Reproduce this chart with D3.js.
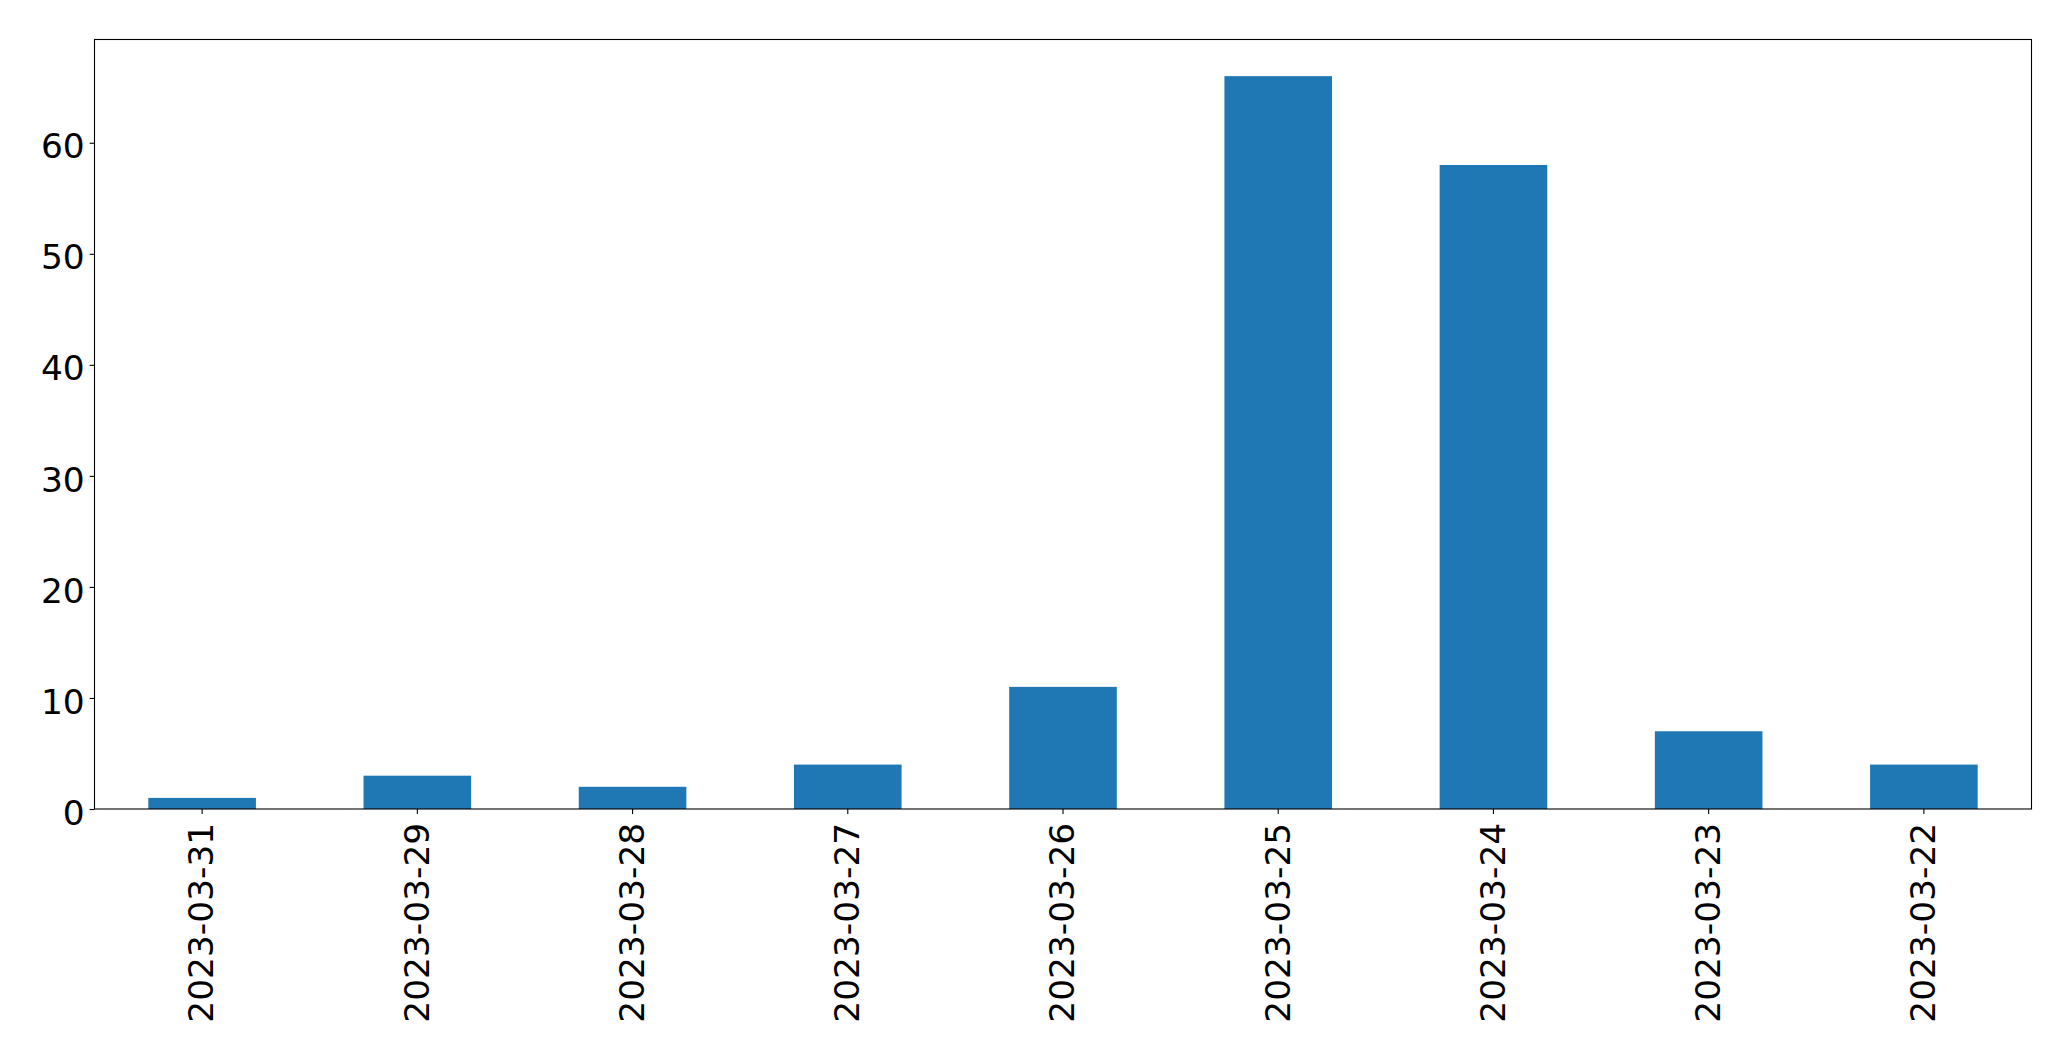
<!DOCTYPE html>
<html>
<head>
<meta charset="utf-8">
<script src="https://cdn.jsdelivr.net/npm/d3@7"></script>
<style>
  html, body { margin: 0; padding: 0; background: #fff; }
  svg { display: block; }
  text { font-family: "DejaVu Sans", sans-serif; fill: #000; }
</style>
</head>
<body>
<script>
const categories = ["2023-03-31", "2023-03-29", "2023-03-28", "2023-03-27", "2023-03-26", "2023-03-25", "2023-03-24", "2023-03-23", "2023-03-22"];
const values = [1, 3, 2, 4, 11, 66, 58, 7, 4];
const yTicks = [0, 10, 20, 30, 40, 50, 60];

const W = 2071, H = 1061;
const mLeft = 94.5, mRight = 2031.5, mTop = 39.5, mBottom = 809;
const fontSize = 34.4;
const tickLen = 4.9, pad = 4.9;

const svg = d3.select("body").append("svg").attr("width", W).attr("height", H);

const x = d3.scaleBand().domain(categories).range([mLeft, mRight]).paddingInner(0.5).paddingOuter(0.25);
const y = d3.scaleLinear().domain([0, d3.max(values) * 1.05]).range([mBottom, mTop]);

svg.append("g").selectAll("rect").data(values).join("rect")
  .attr("x", (d, i) => x(categories[i]))
  .attr("width", x.bandwidth())
  .attr("y", d => y(d))
  .attr("height", d => y(0) - y(d))
  .attr("fill", "#1f77b4");

// frame
svg.append("rect").attr("x", mLeft).attr("y", mTop).attr("width", mRight - mLeft).attr("height", mBottom - mTop)
  .attr("fill", "none").attr("stroke", "#000").attr("stroke-width", 1.1);

// y axis
const yAxis = d3.axisLeft(y).tickValues(yTicks).tickSize(tickLen).tickPadding(pad).tickFormat(d3.format("d"));
const gy = svg.append("g").attr("transform", `translate(${mLeft},0)`).call(yAxis);
gy.select(".domain").remove();
gy.selectAll(".tick line").attr("stroke", "#000").attr("stroke-width", 1.1);
gy.selectAll(".tick text").attr("font-size", fontSize).attr("font-family", "DejaVu Sans").attr("dy", "0.44em");

// x axis
const xAxis = d3.axisBottom(x).tickSize(tickLen).tickPadding(pad);
const gx = svg.append("g").attr("transform", `translate(0,${mBottom})`).call(xAxis);
gx.select(".domain").remove();
gx.selectAll(".tick line").attr("stroke", "#000").attr("stroke-width", 1.1);
gx.selectAll(".tick text")
  .attr("font-size", fontSize).attr("font-family", "DejaVu Sans")
  .attr("text-anchor", "end")
  .attr("transform", "rotate(-90)")
  .attr("x", -(tickLen + pad + 4))
  .attr("y", 0)
  .attr("dy", "0.33em");
</script>
</body>
</html>
